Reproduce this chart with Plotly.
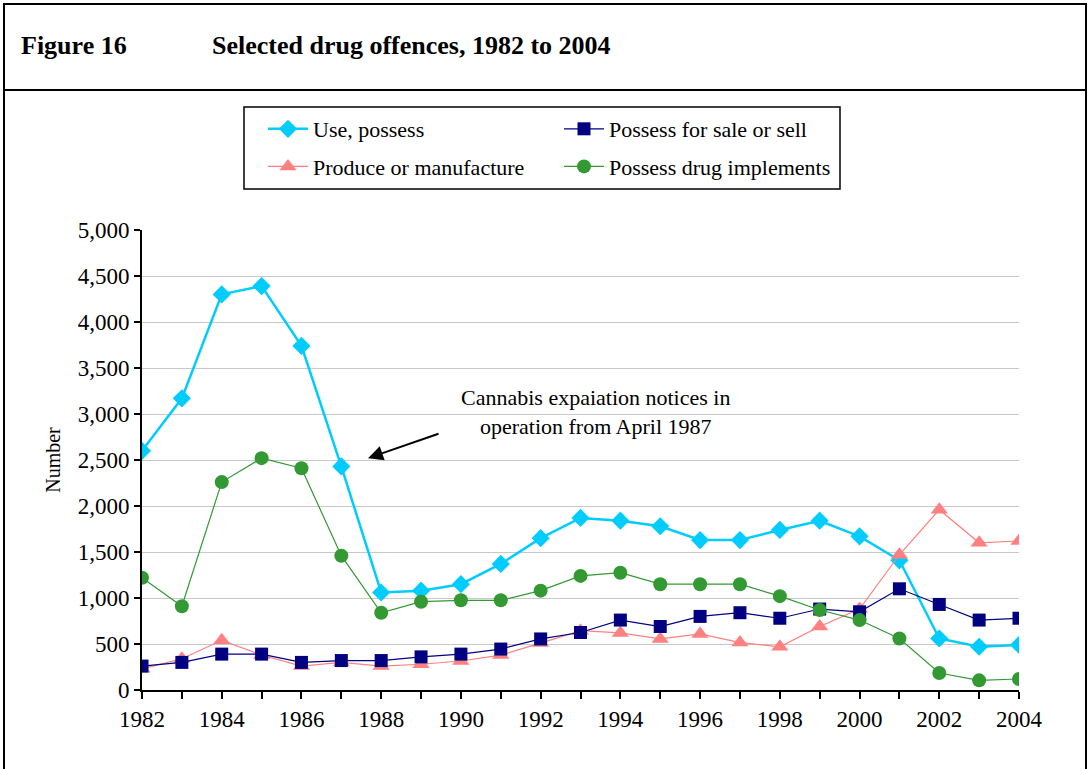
import plotly.graph_objects as go

years = list(range(1982, 2005))
use_possess = [2600, 3170, 4300, 4390, 3740, 2430, 1060, 1080, 1150, 1370, 1650, 1870,
               1840, 1780, 1630, 1630, 1740, 1840, 1670, 1410, 560, 470, 490]
sale_sell = [260, 300, 390, 390, 300, 320, 320, 360, 390, 445, 555, 625,
             760, 690, 800, 840, 780, 880, 850, 1100, 930, 760, 780]
produce = [230, 340, 540, 380, 260, 300, 260, 280, 315, 380, 510, 645,
           620, 555, 610, 515, 470, 690, 880, 1470, 1960, 1600, 1620]
implements = [1220, 910, 2260, 2520, 2410, 1460, 840, 960, 975, 975, 1080, 1240,
              1275, 1150, 1150, 1150, 1020, 870, 760, 560, 185, 105, 120]

FONT = "Liberation Serif"
W, H = 1090, 769
L, R, T, B = 142, 71, 230, 79
PW, PH = W - L - R, H - T - B

def px(x):
    return (x - L) / PW

def py(y):
    return (H - B - y) / PH

fig = go.Figure()
fig.add_trace(go.Scatter(x=years, y=use_possess, name="Use, possess", mode="lines+markers",
                         line=dict(color="#00CCFF", width=2.5),
                         marker=dict(symbol="diamond", size=14, color="#00CCFF"),
                         legend="legend", legendgroup="a"))
fig.add_trace(go.Scatter(x=years, y=produce, name="Produce or manufacture", mode="lines+markers",
                         line=dict(color="#FF8080", width=1.2),
                         marker=dict(symbol="triangle-up", size=15, color="#FF8080"),
                         legend="legend", legendgroup="b"))
fig.add_trace(go.Scatter(x=years, y=sale_sell, name="Possess for sale or sell", mode="lines+markers",
                         line=dict(color="#000080", width=1.2),
                         marker=dict(symbol="square", size=13, color="#000080"),
                         legend="legend2", legendgroup="c"))
fig.add_trace(go.Scatter(x=years, y=implements, name="Possess drug implements", mode="lines+markers",
                         line=dict(color="#339933", width=1.2),
                         marker=dict(symbol="circle", size=14, color="#339933"),
                         legend="legend2", legendgroup="d"))

shapes = [
    # outer frame
    dict(type="rect", xref="paper", yref="paper", x0=px(4), x1=px(1086), y0=py(800), y1=py(4),
         line=dict(color="black", width=2), fillcolor="rgba(0,0,0,0)", layer="above"),
    dict(type="line", xref="paper", yref="paper", x0=px(4), x1=px(1086), y0=py(90), y1=py(90),
         line=dict(color="black", width=2)),
    # legend box
    dict(type="rect", xref="paper", yref="paper", x0=px(244), x1=px(840), y0=py(189), y1=py(107),
         line=dict(color="black", width=1.5), fillcolor="rgba(0,0,0,0)"),
]

annotations = [
    dict(text="<b>Figure 16</b>", xref="paper", yref="paper", x=px(19), y=py(45),
         xanchor="left", yanchor="middle", showarrow=False,
         font=dict(family=FONT, size=26, color="black")),
    dict(text="<b>Selected drug offences, 1982 to 2004</b>", xref="paper", yref="paper",
         x=px(210), y=py(45), xanchor="left", yanchor="middle", showarrow=False,
         font=dict(family=FONT, size=26, color="black")),
    dict(text="Cannabis expaiation notices in<br>operation from April 1987",
         x=1993.38, y=3020, xref="x", yref="y", showarrow=False, align="center",
         font=dict(family=FONT, size=22, color="black")),
    dict(text="", x=1987.67, y=2520, xref="x", yref="y", showarrow=True,
         ax=72, ay=-25, arrowhead=2, arrowsize=1.5, arrowwidth=2, arrowcolor="black"),
]

legend_common = dict(yanchor="top", xanchor="left", bgcolor="rgba(0,0,0,0)", borderwidth=0,
                     font=dict(family=FONT, size=22), tracegroupgap=6, itemwidth=40,
                     traceorder="grouped")

fig.update_layout(
    width=W, height=H,
    margin=dict(l=L, r=R, t=T, b=B),
    paper_bgcolor="white", plot_bgcolor="white",
    font=dict(family=FONT, size=22, color="black"),
    shapes=shapes, annotations=annotations,
    legend=dict(x=px(263), y=py(108), **legend_common),
    legend2=dict(x=px(559), y=py(108), **legend_common),
    xaxis=dict(range=[1982, 2004], tick0=1982, dtick=2, showgrid=False,
               showline=True, linecolor="black", linewidth=2,
               ticks="outside", ticklen=7, tickwidth=1.5, tickcolor="black",
               minor=dict(dtick=1, ticks="outside", ticklen=7, tickwidth=1.5, tickcolor="black"),
               tickfont=dict(family=FONT, size=23), zeroline=False),
    yaxis=dict(range=[0, 5000], dtick=500, tickformat=",", showgrid=True,
               gridcolor="#C8C8C8", gridwidth=1,
               showline=True, linecolor="black", linewidth=2,
               ticks="outside", ticklen=6, tickwidth=1.5, tickcolor="black",
               tickfont=dict(family=FONT, size=23), zeroline=False,
               title=dict(text="Number", font=dict(family=FONT, size=20), standoff=12)),
)

fig.write_html("out.html", config={"displayModeBar": False},
               post_script="document.body.style.margin='0';")
